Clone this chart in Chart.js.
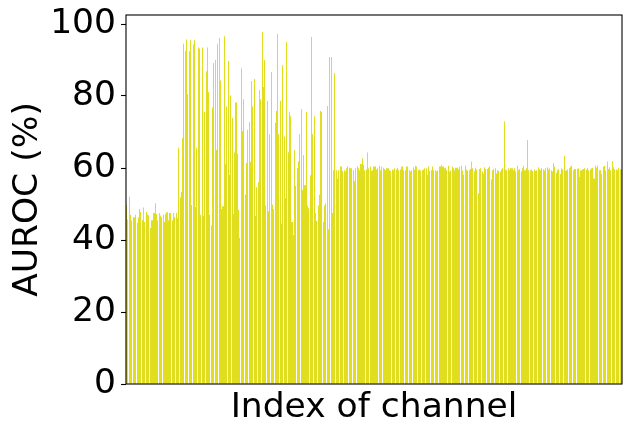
<!DOCTYPE html>
<html>
<head>
<meta charset="utf-8">
<script src="https://cdn.jsdelivr.net/npm/chart.js@4.4.1/dist/chart.umd.min.js"></script>
<style>
  html, body { margin: 0; padding: 0; background: #fff; }
  #wrap { width: 631px; height: 434px; }
</style>
</head>
<body>
<div id="wrap"><canvas id="auroc" width="631" height="434"></canvas></div>
<script>
// AUROC (%) per channel, left to right
var firstBlock = [49.7, 45.7, 52.0, 47.0, 45.4, 46.3, 46.3, 47.0, 44.8, 46.3,
  48.6, 47.8, 45.5, 49.0, 45.0, 47.8, 47.1, 46.9, 43.3, 45.5,
  45.5, 47.5, 50.2, 47.2, 45.5, 47.5, 46.8, 46.3, 47.0, 45.0,
  47.2, 47.7, 45.5, 47.5, 47.5, 45.5, 47.5, 46.4, 47.5, 46.2];

var middleBlock = [65.6, 51.9, 53.3, 68.3, 94.5, 92.5, 95.7, 80.5, 92.4, 95.5,
  49.7, 94.3, 95.5, 49.2, 65.6, 93.5, 93.2, 47.0,
  93.5, 46.7, 75.6, 86.9, 93.5, 81.1, 47.0, 44.0, 76.8, 89.2,
  90.0, 65.0, 94.5, 96.1, 84.3, 48.6, 49.4, 96.6, 61.2,
  77.0, 89.7, 58.1, 80.2, 73.9, 47.3, 64.3, 78.2, 64.0, 48.4,
  40.6, 87.7, 70.3, 79.1, 52.6, 61.4, 70.6, 72.8, 61.7, 84.2,
  77.1, 84.7, 46.7, 54.7, 56.1, 81.7, 79.1, 97.8, 82.5, 90.0,
  49.6, 78.6, 48.0, 69.4, 86.7, 49.8, 48.6, 72.6, 75.8,
  97.2, 69.4, 78.6, 44.5, 88.6, 68.7, 51.7, 95.0, 64.4, 75.6,
  74.4, 45.0, 41.4, 65.0, 55.1, 60.0, 61.9, 69.4, 76.4, 53.9,
  63.6, 55.2, 75.6, 49.6, 48.8, 58.0, 96.4, 69.4, 74.4, 47.5,
  45.3, 49.6, 52.6, 75.8, 75.6, 45.0, 49.6, 50.2, 77.2, 43.0,
  90.8, 90.8, 47.5, 59.4, 86.4];

var lastBlockA = [59.4, 57.1, 59.4, 60.4, 60.4, 59.2, 59.4, 59.0, 59.9, 60.4,
  60.1, 59.9, 59.9, 59.4, 56.4, 59.9, 60.4, 59.9, 59.4, 61.1,
  62.7, 60.8, 59.4, 59.6, 64.3, 59.9, 60.4, 59.2, 59.4, 60.4,
  60.4, 59.6, 59.9, 60.6, 59.4, 60.4, 60.1, 59.7, 59.4, 59.9,
  59.9, 59.4, 59.2, 59.6, 59.4, 59.9, 59.6, 60.1, 59.4, 59.6,
  60.4, 60.4, 59.4, 59.4, 60.4, 60.4, 59.4, 59.0, 59.4, 60.2,
  59.6, 60.6, 60.4, 59.4, 59.6, 59.3, 59.4, 59.6, 59.9, 59.9,
  58.1, 60.4, 59.2, 59.4, 60.4, 59.4, 59.4, 59.0, 59.3, 60.4,
  60.4, 60.8, 60.4, 59.9, 60.1, 59.4, 60.6, 59.0, 59.3, 60.4,
  59.9, 59.3, 60.1, 60.1, 59.6, 60.4, 60.6, 59.3, 58.1, 60.6,
  59.6, 59.3, 59.4, 59.7, 61.8, 59.9, 59.2, 60.1, 59.6, 53.0];

var lastBlockB = [59.7, 59.9, 59.0, 58.5, 60.2, 59.7, 59.7, 60.1, 60.4, 56.9,
  59.4, 59.7, 59.9, 58.5, 59.4, 59.2, 59.0, 59.6, 59.9, 72.9,
  59.6, 59.4, 59.9, 59.4, 59.9, 59.9, 59.4, 59.9, 59.0, 60.6,
  59.4, 59.7, 59.0, 59.9, 60.6, 59.4, 59.9, 67.8, 59.4, 59.4,
  59.6, 59.2, 59.6, 59.2, 59.4, 60.2, 59.7, 59.4, 59.9, 59.6,
  59.3, 59.9, 60.2, 59.6, 59.9, 59.4, 59.0, 61.3, 60.4, 58.7,
  59.4, 59.7, 58.3, 59.9, 59.6, 63.3, 59.3, 59.3, 59.6, 59.9,
  60.4, 60.6, 59.4, 59.7, 59.7, 59.7, 59.9, 57.6, 59.3, 59.6,
  59.7, 59.9, 59.6, 59.9, 59.3, 59.6, 59.9, 60.1, 57.1, 60.6,
  60.1, 60.6, 59.4, 59.4, 58.3, 60.4, 60.6, 59.3, 61.8, 59.7,
  60.2, 59.4, 61.9, 60.2, 59.6, 59.6, 59.4, 60.1, 59.7, 59.6];

var yTicks = [0, 20, 40, 60, 80, 100];
var yMax = 102.5;

var auroc = firstBlock.concat(middleBlock, lastBlockA, lastBlockB);
var channels = [];
for (var i = 0; i < auroc.length; i++) {
  channels.push(String(i));
}

var font = "'DejaVu Sans', sans-serif";

// matplotlib-style box round the plot area
var frame = {
  id: 'frame',
  afterDraw: function(chart) {
    var a = chart.chartArea;
    var c = chart.ctx;
    c.save();
    c.strokeStyle = '#000';
    c.lineWidth = 1.1;
    c.strokeRect(a.left, a.top, a.right - a.left, a.bottom - a.top);
    c.restore();
  }
};

// round bar edges to whole pixels, like the agg renderer does
var snapBars = {
  id: 'snapBars',
  beforeDatasetsDraw: function(chart) {
    chart.getDatasetMeta(0).data.forEach(function(bar) {
      var l = Math.round(bar.x - bar.width / 2);
      var r = Math.round(bar.x + bar.width / 2);
      if (r <= l) r = l + 1;
      bar.x = (l + r) / 2;
      bar.width = r - l;
    });
  }
};

var ctx = document.getElementById('auroc').getContext('2d');
var chart = new Chart(ctx, {
  type: 'bar',
  data: {
    labels: channels,
    datasets: [{
      label: 'AUROC',
      data: auroc,
      backgroundColor: 'rgb(224,222,30)',
      borderWidth: 0,
      barPercentage: 0.8,
      categoryPercentage: 1.0
    }]
  },
  options: {
    responsive: false,
    animation: false,
    layout: { padding: { top: 15, right: 9, left: 0, bottom: 0 } },
    plugins: {
      legend: { display: false },
      tooltip: { enabled: false }
    },
    scales: {
      x: {
        grid: { display: false },
        border: { display: false },
        ticks: { display: false },
        title: {
          display: true,
          text: 'Index of channel',
          color: '#000',
          font: { family: font, size: 34.5 },
          padding: { top: 0, bottom: 5 }
        },
        afterFit: function(scale) { scale.height = 50; }
      },
      y: {
        min: 0,
        max: yMax,
        afterBuildTicks: function(scale) {
          scale.ticks = yTicks.map(function(v) { return { value: v }; });
        },
        grid: {
          drawOnChartArea: false,
          drawTicks: true,
          tickLength: 5,
          tickColor: '#000',
          tickWidth: 1.1
        },
        border: { display: false },
        ticks: {
          color: '#000',
          padding: 5,
          font: { family: font, size: 34.5 }
        },
        title: {
          display: true,
          text: 'AUROC (%)',
          color: '#000',
          font: { family: font, size: 34.5 },
          padding: { top: 7, bottom: 0 }
        },
        afterFit: function(scale) {
          scale.width = 126;
          scale.paddingTop = 0;
          scale.paddingBottom = 0;
        }
      }
    }
  },
  plugins: [frame, snapBars]
});
</script>
</body>
</html>
